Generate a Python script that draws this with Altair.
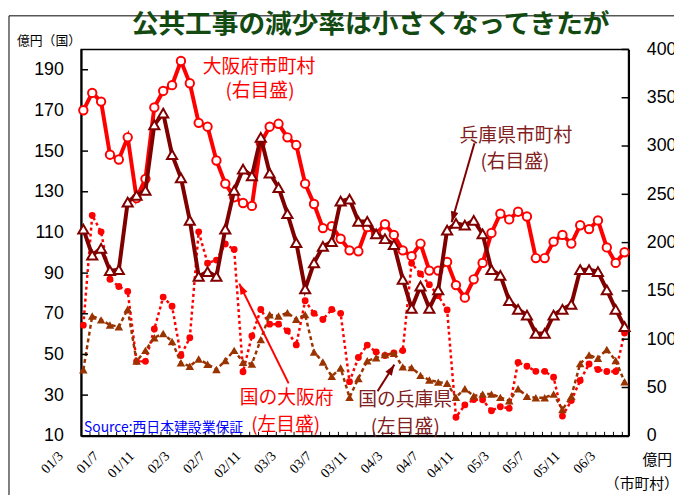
import altair as alt
import pandas as pd

# ---- categories: monthly, 2001/3 .. 2006/4 ----
months = []
yy, mm = 1, 3
for _ in range(62):
    months.append(f"{yy:02d}/{mm}")
    mm += 1
    if mm > 12:
        mm = 1
        yy += 1

tick_labels = ["01/3", "01/7", "01/11", "02/3", "02/7", "02/11", "03/3", "03/7",
               "03/11", "04/3", "04/7", "04/11", "05/3", "05/7", "05/11", "06/3"]
tick_index = [months.index(t) for t in tick_labels]

# 大阪府市町村 (right axis, 億円)
osaka_city = [337, 355, 346, 291, 286, 309, 246, 266, 340, 357, 363, 388, 365, 324, 320, 285,
              261, 247, 241, 238, 303, 320, 323, 309, 301, 261, 240, 215, 217, 204, 192, 191,
              216, 209, 219, 208, 192, 186, 199, 171, 171, 180, 156, 143, 162, 179, 210, 230,
              224, 232, 227, 184, 184, 201, 208, 199, 218, 214, 223, 195, 179, 190]
# 兵庫県市町村 (right axis)
hyogo_city = [214, 187, 194, 171, 172, 242, 249, 254, 322, 334, 291, 267, 223, 165, 170, 165,
              214, 254, 276, 269, 309, 272, 257, 230, 200, 152, 179, 196, 201, 243, 245, 222,
              222, 209, 204, 198, 162, 132, 155, 132, 151, 213, 220, 218, 223, 209, 172, 166,
              140, 131, 125, 106, 106, 125, 131, 136, 172, 172, 170, 151, 131, 113]
# 国の大阪府 (left axis)
kuni_osaka = [64.4, 118.4, 110.3, 87, 83.4, 81, 46.6, 46.6, 62.5, 78.2, 73.7, 49.5, 58.2, 110.3,
              94.9, 96.4, 104.3, 101.6, 41.5, 59.1, 72.1, 64.9, 64.9, 61.6, 54.7, 76.4, 70.2,
              67.2, 72.1, 70.2, 36.6, 48.5, 54.6, 51.2, 49.5, 50.7, 51.9, 94.8, 89.6, 84.3,
              78.9, 71.9, 19.1, 25.2, 27.8, 27.7, 22.3, 24.3, 23.5, 46.1, 44.2, 41.7, 41.7,
              38.8, 19.7, 27.3, 37.2, 45.3, 42.6, 41.6, 41.6, 60.5]
# 国の兵庫県 (left axis)
kuni_hyogo = [42.5, 68.9, 67, 64.5, 63.6, 72.3, 46.7, 52, 58.2, 60.3, 56.4, 45.9, 44.2, 47.8,
              45.2, 42.6, 47, 52, 46.2, 45.3, 57.3, 69.5, 68.9, 70.5, 67.3, 69.6, 51.2, 46.3,
              39.2, 43.3, 28.9, 38.2, 46.9, 48.3, 49.9, 50.6, 43.9, 43.5, 39.7, 37.4, 36.4,
              35.8, 28.9, 33.1, 29.6, 30.5, 30.5, 28.9, 27.2, 33.1, 29.4, 28.7, 28.7, 30.5,
              22.9, 29.4, 45.5, 49.7, 48.1, 52.4, 47, 36.6]

left_ticks = [10, 30, 50, 70, 90, 110, 130, 150, 170, 190]
right_ticks = [0, 50, 100, 150, 200, 250, 300, 350, 400]

df = pd.DataFrame({
    "i": list(range(len(months))),
    "month": months,
    "osaka_city": osaka_city,
    "hyogo_city": hyogo_city,
    "kuni_osaka": kuni_osaka,
    "kuni_hyogo": kuni_hyogo,
})

W, H = 554, 391
JP = "Noto Sans CJK JP"
RED = "#FF0000"
MAROON = "#800000"
BROWN = "#993300"
MAROON_TXT = "#802020"

xs = alt.Scale(domain=[-0.25, 61.45], nice=False, zero=False)
yl = alt.Scale(domain=[10, 200], nice=False, zero=False)
yr = alt.Scale(domain=[0, 400], nice=False, zero=False)

label_expr = "[" + ",".join(f"'{m}'" for m in months) + "][datum.value]"
x_axis = alt.Axis(values=tick_index, labelExpr=label_expr, labelAngle=315, labelAlign="right",
                  labelBaseline="middle", labelFont="Liberation Serif", labelFontSize=14,
                  labelPadding=18, labelOffset=-23, ticks=False, grid=False,
                  domainColor="black", domainWidth=2, title=None, labelColor="black")
yl_axis = alt.Axis(values=left_ticks, orient="left", labelFont="Liberation Sans",
                   labelFontSize=18, labelPadding=18, ticks=False, grid=False,
                   domainColor="black", domainWidth=2, title=None, labelColor="black")
yr_axis = alt.Axis(values=right_ticks, orient="right", labelFont="Liberation Sans",
                   labelFontSize=18, labelPadding=18, ticks=False, grid=False,
                   domainColor="black", domainWidth=2, title=None, labelColor="black")


def X(field):
    return alt.X(field, type="quantitative", scale=xs, axis=x_axis)


def YL(field):
    return alt.Y(field, type="quantitative", scale=yl, axis=yl_axis)


def YR(field):
    return alt.Y(field, type="quantitative", scale=yr, axis=yr_axis)


base = alt.Chart(df)

# ----- national (left axis) series, dotted lines with filled markers -----
ko_line = base.mark_line(color=RED, strokeWidth=2.5, strokeDash=[3, 3]).encode(x=X("i"), y=YL("kuni_osaka"))
ko_pts = base.mark_point(shape="circle", filled=True, color=RED, size=48, opacity=1).encode(x=X("i"), y=YL("kuni_osaka"))
kh_line = base.mark_line(color=BROWN, strokeWidth=2.5, strokeDash=[4, 3]).encode(x=X("i"), y=YL("kuni_hyogo"))
kh_pts = base.mark_point(shape="triangle-up", filled=True, color=BROWN, size=75, opacity=1).encode(x=X("i"), y=YL("kuni_hyogo"))
lt = alt.Chart(pd.DataFrame({"v": left_ticks})).mark_rule(color="black", strokeWidth=1.5).encode(
    y=YL("v"), x=alt.value(0), x2=alt.value(7))
left_group = alt.layer(ko_line, ko_pts, kh_line, kh_pts, lt)

# ----- municipal (right axis) series, thick lines with open markers -----
oc_line = base.mark_line(color=RED, strokeWidth=4).encode(x=X("i"), y=YR("osaka_city"))
oc_pts = base.mark_point(shape="circle", filled=True, fill="white", stroke=RED, strokeWidth=2,
                         size=72, opacity=1).encode(x=X("i"), y=YR("osaka_city"))
hc_line = base.mark_line(color=MAROON, strokeWidth=4).encode(x=X("i"), y=YR("hyogo_city"))
hc_pts = base.mark_point(shape="triangle-up", filled=True, fill="white", stroke=MAROON, strokeWidth=2,
                         size=105, opacity=1).encode(x=X("i"), y=YR("hyogo_city"))
rt = alt.Chart(pd.DataFrame({"v": right_ticks})).mark_rule(color="black", strokeWidth=1.5).encode(
    y=YR("v"), x=alt.value(W - 7), x2=alt.value(W))
right_group = alt.layer(oc_line, oc_pts, hc_line, hc_pts, rt)

# minor category ticks on the x axis (pointing inward)
xt = alt.Chart(pd.DataFrame({"b": [k - 0.25 for k in range(1, 62)]})).mark_rule(
    color="black", strokeWidth=1).encode(x=X("b"), y=alt.value(H - 4), y2=alt.value(H))


def txt(text, x, y, color, size, align="center", weight="normal", font=JP):
    return alt.Chart(pd.DataFrame({"t": [text]})).mark_text(
        align=align, baseline="middle", color=color, fontSize=size, fontWeight=weight, font=font
    ).encode(text="t:N", x=alt.value(x), y=alt.value(y))


def arrow(x1, y1, x2, y2, ang, color):
    d = pd.DataFrame({"a": [0]})
    ln = alt.Chart(d).mark_rule(color=color, strokeWidth=2).encode(
        x=alt.value(x1), y=alt.value(y1), x2=alt.value(x2), y2=alt.value(y2))
    hd = alt.Chart(d).mark_point(shape="M0,0L0.7,2L-0.7,2Z", filled=True, color=color, size=121,
                                 angle=ang, opacity=1).encode(x=alt.value(x2), y=alt.value(y2))
    return [ln, hd]


frame = [
    alt.Chart(pd.DataFrame({"a": [0]})).mark_rule(color="black", strokeWidth=1).encode(
        x=alt.value(-73), x2=alt.value(W + 60), y=alt.value(-34)),
    alt.Chart(pd.DataFrame({"a": [0]})).mark_rule(color="black", strokeWidth=1).encode(
        x=alt.value(-73), y=alt.value(-34), y2=alt.value(H + 70)),
]

annotations = [
    txt("公共工事の減少率は小さくなってきたが", 293, -25, "#124a12", 27, weight="bold"),
    txt("億円（国）", -65, -8, "black", 13, align="left"),
    txt("億円", 568, 416, "black", 15, align="left"),
    txt("（市町村）", 530, 440, "black", 15, align="left"),
    txt("大阪府市町村", 180, 18, RED, 19),
    txt("(右目盛)", 181, 42, RED, 19),
    txt("兵庫県市町村", 440, 88, MAROON_TXT, 19),
    txt("(右目盛)", 439, 114, MAROON_TXT, 19),
    txt("国の大阪府", 208, 353, RED, 19),
    txt("(左目盛)", 207, 380, RED, 19),
    txt("国の兵庫県", 328, 355, MAROON_TXT, 19),
    txt("(左目盛)", 328, 382, MAROON_TXT, 19),
    txt("Source:西日本建設業保証", 3, 383, "#0000FF", 14, align="left"),
]
arrows = (arrow(398, 95, 375, 175, 196, MAROON)
          + arrow(210, 338, 160, 237, 334, RED)
          + arrow(300, 346, 317, 319, 32, MAROON))

chart = alt.layer(
    left_group, right_group, xt, *frame, *annotations, *arrows
).resolve_scale(y="independent").properties(
    width=W, height=H,
    autosize=alt.AutoSizeParams(type="none"),
    padding={"left": 74, "top": 39, "right": 46, "bottom": 57},
    background="white",
).configure_view(stroke="black", strokeWidth=1.5)

chart.save("out.html", embed_options={"renderer": "svg", "actions": False})
